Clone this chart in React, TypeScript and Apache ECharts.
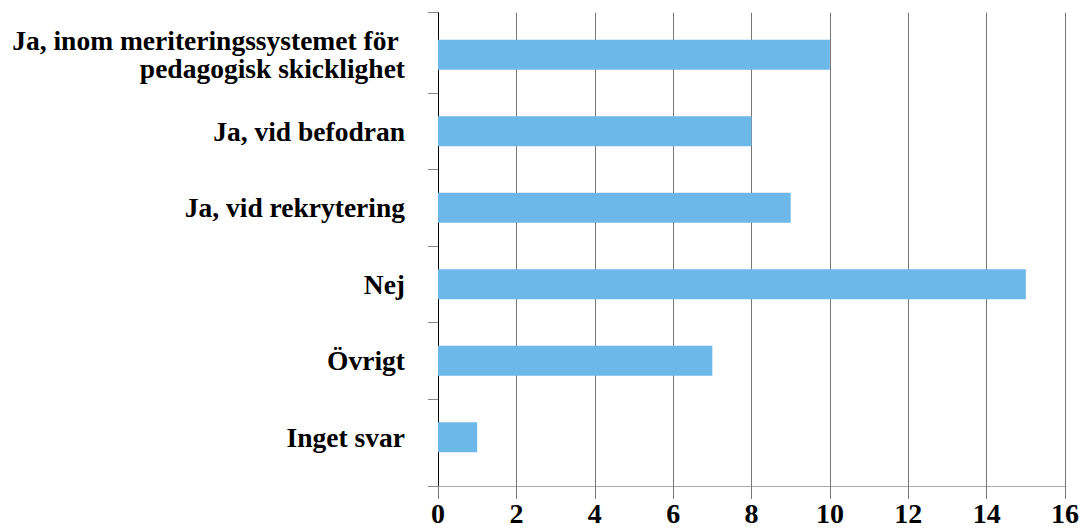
import React, { useEffect, useRef } from "react";
import * as echarts from "echarts";

const categories = [
  "Ja, inom meriteringssystemet för \npedagogisk skicklighet",
  "Ja, vid befodran",
  "Ja, vid rekrytering",
  "Nej",
  "Övrigt",
  "Inget svar",
];
const values = [10, 8, 9, 15, 7, 1];
const xTicks = [0, 2, 4, 6, 8, 10, 12, 14, 16];

const FONT = "Liberation Serif";

export default function App() {
  const ref = useRef<HTMLDivElement>(null);
  useEffect(() => {
    if (!ref.current) return;
    const chart = echarts.init(ref.current, null, { renderer: "svg" });
    const yMin = -0.55;
    const yMax = 5.637;
    chart.setOption({
      animation: false,
      backgroundColor: "#fff",
      textStyle: { fontFamily: FONT },
      grid: [
        { left: 438, right: 14, top: 16.5, bottom: 53.5, containLabel: false, outerBoundsMode: "none" },
        { left: 438, right: 14, top: 12.7, bottom: 43, containLabel: false, outerBoundsMode: "none" },
      ],
      xAxis: [
        {
          gridIndex: 0,
          type: "value",
          min: xTicks[0],
          max: xTicks[xTicks.length - 1],
          show: false,
        },
        {
          gridIndex: 1,
          type: "value",
          min: xTicks[0],
          max: xTicks[xTicks.length - 1],
          interval: 2,
          axisLine: { show: true, onZero: false, lineStyle: { color: "#aaa", width: 1 } },
          axisTick: { show: true, length: 13, inside: false, lineStyle: { color: "#777" } },
          splitLine: { show: true, lineStyle: { color: "#777", width: 1 } },
          axisLabel: {
            fontFamily: FONT,
            fontSize: 28,
            fontWeight: "bold",
            color: "#000",
            margin: 13,
            verticalAlign: "top",
          },
        },
      ],
      yAxis: [
        {
          gridIndex: 0,
          type: "category",
          inverse: true,
          data: categories,
          axisLine: { show: false },
          axisTick: { show: false },
          axisLabel: {
            fontFamily: FONT,
            fontSize: 27.5,
            fontWeight: "bold",
            color: "#000",
            margin: 33,
            lineHeight: 28,
            align: "right",
          },
        },
        {
          gridIndex: 1,
          type: "value",
          inverse: true,
          min: yMin,
          max: yMax,
          axisLine: { show: true, onZero: false, lineStyle: { color: "#000", width: 1 } },
          axisTick: {
            show: true,
            length: 10,
            inside: false,
            lineStyle: { color: "#888" },
            customValues: [yMin, 0.5, 1.5, 2.5, 3.5, 4.5, yMax],
          },
          axisLabel: { show: false },
          splitLine: { show: false },
        },
      ],
      series: [
        {
          type: "bar",
          xAxisIndex: 0,
          yAxisIndex: 0,
          data: values,
          barWidth: 30,
          itemStyle: { color: "#6CB8E8" },
        },
      ],
    });
    return () => chart.dispose();
  }, []);
  return <div ref={ref} style={{ width: 1079, height: 529, position: "absolute", left: 0, top: 0 }} />;
}
